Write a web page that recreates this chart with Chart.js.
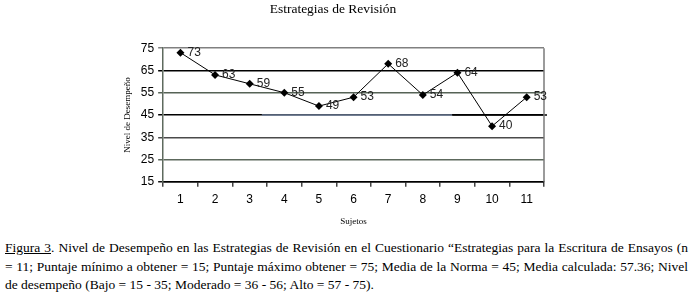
<!DOCTYPE html>
<html>
<head>
<meta charset="utf-8">
<script src="https://cdn.jsdelivr.net/npm/chart.js@4.4.1/dist/chart.umd.min.js"></script>
<style>
  html, body { margin: 0; padding: 0; background: #fff; }
  #wrap { position: relative; width: 691px; height: 297px; overflow: hidden; }
  #box { position: absolute; left: 0; top: 0; width: 691px; height: 232px; }
  #caption {
    position: absolute; left: 5px; top: 239px; width: 683px;
    font-family: "Liberation Serif", "Times New Roman", serif;
    font-size: 13.5px; line-height: 18.7px; color: #000;
  }
  #caption div { white-space: nowrap; }
  #caption .j { text-align: justify; text-align-last: justify; }
  #caption u { text-decoration: underline; }
</style>
</head>
<body>
<div id="wrap">
  <div id="box"><canvas id="chart"></canvas></div>
  <div id="caption">
    <div class="j"><u>Figura 3</u>. Nivel de Desempeño en las Estrategias de Revisión en el Cuestionario “Estrategias para la Escritura de Ensayos (n</div>
    <div class="j">= 11; Puntaje mínimo a obtener = 15; Puntaje máximo obtener = 75; Media de la Norma = 45; Media calculada: 57.36; Nivel</div>
    <div>de desempeño (Bajo = 15 - 35; Moderado = 36 - 56; Alto = 57 - 75).</div>
  </div>
</div>
<script>
var sujetos = ['1','2','3','4','5','6','7','8','9','10','11']
var puntajes = [73, 63, 59, 55, 49, 53, 68, 54, 64, 40, 53]
var yTicks = [15, 25, 35, 45, 55, 65, 75]
var mediaNorma = 45

// scan-ish colours of the horizontal lines, per tick value
var gridColors = { 15: '#111', 25: '#5c685c', 35: '#4a4a4a', 45: '#000', 55: '#566356', 65: '#000', 75: '#808080' }

var frame = {
  id: 'frame',
  afterDatasetsDraw: function(chart){
    var c = chart.ctx, a = chart.chartArea
    var x = chart.scales.x, y = chart.scales.y
    c.save()
    // norm line: blue-grey middle part, black tail slightly past the frame
    var yy = y.getPixelForValue(mediaNorma)
    c.lineWidth = 1.5
    c.strokeStyle = '#6f7f9a'
    c.beginPath(); c.moveTo(x.getPixelForValue(2.35), yy); c.lineTo(x.getPixelForValue(7.85), yy); c.stroke()
    c.strokeStyle = '#000'
    c.beginPath(); c.moveTo(x.getPixelForValue(7.85), yy); c.lineTo(a.right + 3, yy); c.stroke()
    // right border
    c.strokeStyle = '#7a7a7a'
    c.lineWidth = 1.5
    c.beginPath(); c.moveTo(a.right, a.top); c.lineTo(a.right, a.bottom); c.stroke()
    c.restore()
  },
  afterDraw: function(chart){
    // value labels to the right of each point
    var c = chart.ctx
    var meta = chart.getDatasetMeta(0)
    c.save()
    c.font = '12px "Liberation Sans", Arial, sans-serif'
    c.fillStyle = '#222'
    c.textBaseline = 'middle'
    c.textAlign = 'left'
    meta.data.forEach(function(pt, i){
      c.fillText(String(puntajes[i]), pt.x + 7, pt.y)
    })
    c.restore()
  }
}

new Chart(document.getElementById('chart'), {
  type: 'line',
  data: {
    labels: sujetos,
    datasets: [{
      data: puntajes,
      borderColor: '#000',
      borderWidth: 1,
      backgroundColor: '#000',
      pointStyle: 'rectRot',
      pointRadius: 4,
      pointBorderWidth: 0,
      tension: 0
    }]
  },
  options: {
    responsive: true,
    maintainAspectRatio: false,
    animation: false,
    layout: { padding: { left: 122, right: 147, top: 0, bottom: 5 } },
    plugins: {
      legend: { display: false },
      tooltip: { enabled: false },
      title: {
        display: true,
        text: 'Estrategias de Revisión',
        color: '#000',
        font: { family: '"Liberation Serif", "Times New Roman", serif', size: 13.5, weight: 'normal' },
        padding: { top: 1, bottom: 31 }
      }
    },
    scales: {
      x: {
        offset: true,
        grid: { offset: true, drawOnChartArea: false, drawTicks: true, tickLength: 5, color: '#444', lineWidth: 1.5 },
        border: { display: true, color: '#000', width: 1.5 },
        ticks: { color: '#000', padding: 6, font: { family: '"Liberation Sans", Arial, sans-serif', size: 12 } },
        title: {
          display: true, text: 'Sujetos', color: '#000',
          font: { family: '"Liberation Serif", "Times New Roman", serif', size: 9 },
          padding: { top: 3, bottom: 0 }
        }
      },
      y: {
        min: 15, max: 75,
        afterBuildTicks: function(s){ s.ticks = yTicks.map(function(v){ return { value: v } }) },
        grid: {
          drawTicks: true, tickLength: 5, lineWidth: 1.5,
          color: function(ctx){ return gridColors[ctx.tick && ctx.tick.value] || '#000' }
        },
        border: { display: true, color: '#5e6a5e', width: 1.5 },
        ticks: { color: '#000', padding: 4, font: { family: '"Liberation Sans", Arial, sans-serif', size: 12 } },
        title: {
          display: true, text: 'Nivel de Desempeño', color: '#000',
          font: { family: '"Liberation Serif", "Times New Roman", serif', size: 9 },
          padding: { top: 0, bottom: 4 }
        }
      }
    }
  },
  plugins: [frame]
})
</script>
</body>
</html>
